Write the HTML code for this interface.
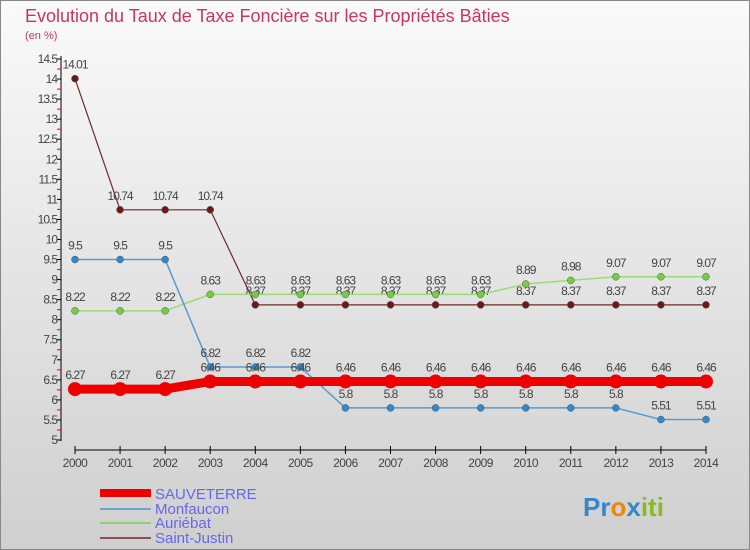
<!DOCTYPE html>
<html><head><meta charset="utf-8"><style>
body{margin:0;width:750px;height:550px;overflow:hidden;font-family:"Liberation Sans",sans-serif}
svg{display:block}
</style></head><body>
<svg width="750" height="550" id="c">
<defs><linearGradient id="bg" x1="0" y1="0" x2="0" y2="1"><stop offset="0" stop-color="#fafafa"/><stop offset="1" stop-color="#cfcfcf"/></linearGradient></defs>
<rect x="0.5" y="0.5" width="749" height="549" fill="url(#bg)" stroke="#888"/>
<text x="25" y="22" font-size="18" fill="#cc3366">Evolution du Taux de Taxe Foncière sur les Propriétés Bâties</text>
<text x="25" y="39" font-size="11" fill="#cc3366">(en %)</text>
<g id="axes"></g><g id="series"></g>
<g>
<rect x="100" y="489" width="51" height="8" fill="#ee0000"/>
<text x="155" y="499" font-size="15" fill="#6666ee">SAUVETERRE</text>
<rect x="100" y="508" width="51" height="2" fill="#6fa3cc"/>
<text x="155" y="514" font-size="15" fill="#6666ee">Monfaucon</text>
<rect x="100" y="522" width="51" height="2" fill="#8fd070"/>
<text x="155" y="528" font-size="15" fill="#6666ee">Auriébat</text>
<rect x="100" y="537" width="51" height="2" fill="#8b5050"/>
<text x="155" y="543" font-size="15" fill="#6666ee">Saint-Justin</text>
</g>
<g font-size="26" font-weight="bold">
<text x="583" y="516"><tspan fill="#3388cc">Pr</tspan><tspan fill="#ee8800">o</tspan><tspan fill="#3388cc">x</tspan><tspan fill="#88bb22">iti</tspan></text>
</g>
</svg>
<script>
const years=[2000,2001,2002,2003,2004,2005,2006,2007,2008,2009,2010,2011,2012,2013,2014];
const sauveterre=[6.27,6.27,6.27,6.46,6.46,6.46,6.46,6.46,6.46,6.46,6.46,6.46,6.46,6.46,6.46];
const monfaucon=[9.5,9.5,9.5,6.82,6.82,6.82,5.8,5.8,5.8,5.8,5.8,5.8,5.8,5.51,5.51];
const auriebat=[8.22,8.22,8.22,8.63,8.63,8.63,8.63,8.63,8.63,8.63,8.89,8.98,9.07,9.07,9.07];
const saintJustin=[14.01,10.74,10.74,10.74,8.37,8.37,8.37,8.37,8.37,8.37,8.37,8.37,8.37,8.37,8.37];
const yTicks=[5,5.5,6,6.5,7,7.5,8,8.5,9,9.5,10,10.5,11,11.5,12,12.5,13,13.5,14,14.5];
const NS="http://www.w3.org/2000/svg";
const x=i=>75+i*(706-75)/(years.length-1);
const y=v=>440-(v-5)*(440-59)/9.5;
function mk(tag,attrs,parent,txt){const e=document.createElementNS(NS,tag);for(const k in attrs)e.setAttribute(k,attrs[k]);if(txt!==undefined)e.textContent=txt;parent.appendChild(e);return e;}
const ax=document.getElementById('axes');
let e=mk('line',{x1:61,y1:56,x2:61,y2:441,stroke:'#000'},ax);


for(let v=5;v<=14.5001;v+=0.25){
  const t=mk('line',{x1:57,x2:61,y1:y(v),y2:y(v),stroke:Math.abs(v*2-Math.round(v*2))<1e-6?'#000':'#ee0000'},ax);
  
  
}
yTicks.forEach(v=>{
  const t=mk('text',{x:57,y:y(v)+4,'font-size':12,fill:'#444','text-anchor':'end','letter-spacing':'-1'},ax,String(v));
  
  
});
e=mk('line',{x1:75,y1:450,x2:706,y2:450,stroke:'#000'},ax);


years.forEach((yr,i)=>{
  const t=mk('line',{x1:x(i),x2:x(i),y1:446,y2:454,stroke:'#000'},ax);
  
  
  const l=mk('text',{x:x(i),y:467,'font-size':12,fill:'#444','text-anchor':'middle','letter-spacing':'-0.5'},ax,String(yr));
  
  
});
const sg=document.getElementById('series');
function series(data,color,w,r,name,dot){
  const g=mk('g',{},sg);
  
  
  const p=mk('polyline',{points:data.map((v,i)=>x(i)+','+y(v)).join(' '),fill:'none',stroke:color,'stroke-width':w},g);
  
  
  data.forEach((v,i)=>{
    const c=mk('circle',{cx:x(i),cy:y(v),r:r,fill:dot,stroke:'#555','stroke-width':r>5?0:0.5},g);
    
    
    const t=mk('text',{x:x(i),y:y(v)-10,'font-size':12,fill:'#444','text-anchor':'middle','letter-spacing':'-1'},g,String(v));
    
    
  });
}
series(saintJustin,'#6b2a2a',1.2,3.5,'saint-justin','#6b1a1a');
series(auriebat,'#99dd77',1.5,3.5,'auriebat','#77cc44');
series(monfaucon,'#5a9acc',1.5,3.5,'monfaucon','#3388cc');
series(sauveterre,'#ee0000',9,7,'sauveterre','#ee0000');
</script>
</body></html>
